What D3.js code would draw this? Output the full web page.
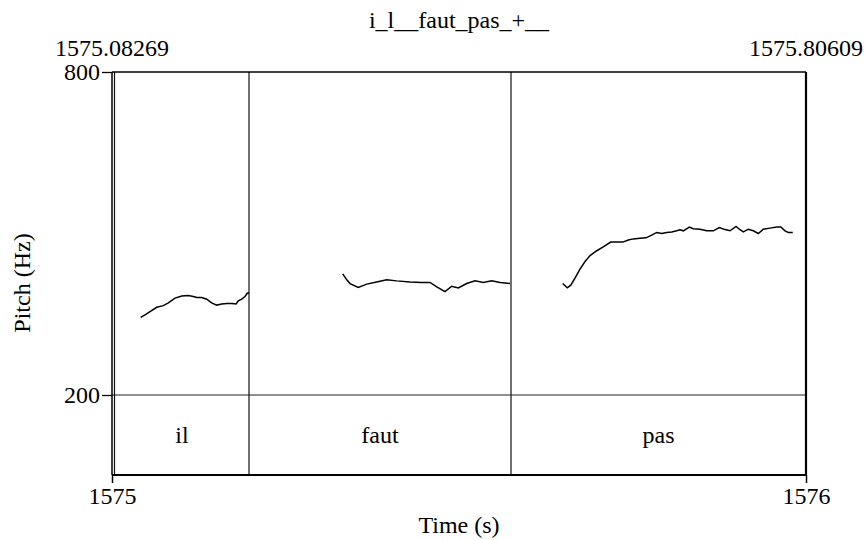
<!DOCTYPE html>
<html>
<head>
<meta charset="utf-8">
<script src="https://d3js.org/d3.v7.min.js"></script>
<style>
  body { margin: 0; background: #fff; }
  svg text { fill: #000; }
</style>
</head>
<body>
<div id="my_dataviz"></div>
<script>

// window shown in the picture (s)
var tStart = 1575.08269, tEnd = 1575.80609;
var bottomTicks = [1575, 1576];
var pitchTicks = [200, 800];
var title = "i_l__faut_pas_+__";

// text tier intervals
var words = ["il", "faut", "pas"];
var bounds = [1575.08269, 1575.2255, 1575.4986, 1575.80609];

// pitch contour (time s, Hz), one array per voiced stretch
var ilTimes = [1575.1126,1575.1171,1575.1223,1575.1293,1575.1362,1575.1414,1575.1484,1575.1554,1575.1622,1575.1674,1575.1710,1575.1762,1575.1814,1575.1866,1575.1918,1575.1971,1575.2023,1575.2075,1575.2120,1575.2144,1575.2179,1575.2213,1575.2237,1575.2256];
var ilHz = [344,349,355,363,366,371,380,384,385,383,381,381,378,371,367,369,370,370,369,375,378,383,389,390];

var fautTimes = [1575.3232,1575.3274,1575.3308,1575.3394,1575.3482,1575.3586,1575.3690,1575.3795,1575.3933,1575.4055,1575.4142,1575.4212,1575.4298,1575.4368,1575.4437,1575.4524,1575.4611,1575.4697,1575.4785,1575.4872,1575.4976];
var fautHz = [425,414,407,400,406,410,414,412,410,409,409,401,392,402,399,407,412,409,412,409,407];

var pasTimes = [1575.5525,1575.5573,1575.5609,1575.5653,1575.5705,1575.5758,1575.5810,1575.5880,1575.5948,1575.6025,1575.6088,1575.6151,1575.6209,1575.6261,1575.6331,1575.6393,1575.6453,1575.6505,1575.6557,1575.6609,1575.6661,1575.6713,1575.6748,1575.6782,1575.6845,1575.6886,1575.6956,1575.7026,1575.7095,1575.7157,1575.7206,1575.7269,1575.7332,1575.7373,1575.7408,1575.7460,1575.7512,1575.7564,1575.7616,1575.7686,1575.7756,1575.7798,1575.7842,1575.7877,1575.7923];
var pasHz = [407,399,404,417,434,448,459,468,475,484,484,484,488,490,491,492,497,502,500,502,503,505,507,505,512,509,508,505,505,511,508,505,513,507,503,508,505,500,508,510,512,512,505,502,502];

var serif = "Liberation Serif, DejaVu Serif, Liberation Sans Narrow, Roboto Condensed, sans-serif";
var pLeft = 112, pRight = 806, pTop = 72, pMid = 395, pBottom = 475;

var svg = d3.select("#my_dataviz")
  .append("svg")
    .attr("width", 866)
    .attr("height", 540)
    .attr("font-family", serif);

var x = d3.scaleLinear().domain([tStart, tEnd]).range([pLeft, pRight]);
var xb = d3.scaleLinear().domain(bottomTicks).range([pLeft, pRight]);
var y = d3.scaleLinear().domain(pitchTicks).range([pMid, pTop]);

// title
svg.append("text")
  .attr("x", (pLeft + pRight) / 2)
  .attr("y", 28)
  .attr("text-anchor", "middle")
  .style("font-size", "24px")
  .text(title);

// start / end times on top
svg.selectAll("toplab")
  .data([tStart, tEnd])
  .enter()
  .append("text")
    .attr("x", function(d) { return x(d); })
    .attr("y", 56)
    .attr("text-anchor", "middle")
    .style("font-size", "24px")
    .text(function(d) { return d3.format(".5f")(d); });

// tier separator and interval boundaries
svg.append("line")
  .attr("x1", pLeft).attr("x2", pRight)
  .attr("y1", pMid).attr("y2", pMid)
  .attr("stroke", "#222").attr("stroke-width", 1.2);

svg.selectAll("bound")
  .data(bounds.slice(1, -1))
  .enter()
  .append("line")
    .attr("x1", function(d) { return x(d); })
    .attr("x2", function(d) { return x(d); })
    .attr("y1", pTop).attr("y2", pBottom)
    .attr("stroke", "#111").attr("stroke-width", 1.2);

// inner left line (tier start)
svg.append("line")
  .attr("x1", pLeft + 2.5).attr("x2", pLeft + 2.5)
  .attr("y1", pTop).attr("y2", pBottom)
  .attr("stroke", "#111").attr("stroke-width", 1.2);

// word labels
svg.selectAll("word")
  .data(words)
  .enter()
  .append("text")
    .attr("x", function(d, i) { return (x(bounds[i]) + x(bounds[i + 1])) / 2 + (i == 0 ? 1.5 : 0); })
    .attr("y", (pMid + pBottom) / 2 + 8)
    .attr("text-anchor", "middle")
    .style("font-size", "24px")
    .text(function(d) { return d; });

// pitch contour
var line = d3.line()
  .x(function(d) { return x(d[0]); })
  .y(function(d) { return y(d[1]); });

[[ilTimes, ilHz], [fautTimes, fautHz], [pasTimes, pasHz]].forEach(function(s) {
  svg.append("path")
    .datum(d3.zip(s[0], s[1]))
    .attr("fill", "none")
    .attr("stroke", "#000")
    .attr("stroke-width", 1.5)
    .attr("d", line);
});

// frame
svg.append("line").attr("x1", pLeft).attr("x2", pRight).attr("y1", pTop).attr("y2", pTop)
  .attr("stroke", "#000").attr("stroke-width", 1.3);
svg.append("line").attr("x1", pLeft).attr("x2", pRight + 1).attr("y1", pBottom).attr("y2", pBottom)
  .attr("stroke", "#000").attr("stroke-width", 2);
svg.append("line").attr("x1", pLeft).attr("x2", pLeft).attr("y1", pTop).attr("y2", pBottom)
  .attr("stroke", "#000").attr("stroke-width", 1.5);
svg.append("line").attr("x1", pRight).attr("x2", pRight).attr("y1", pTop).attr("y2", pBottom)
  .attr("stroke", "#000").attr("stroke-width", 2.2);

// left axis
var gy = svg.append("g")
  .attr("transform", "translate(" + pLeft + ",0)")
  .call(d3.axisLeft(y).tickValues(pitchTicks).tickSize(10).tickPadding(2));
gy.attr("font-family", serif);
gy.select(".domain").remove();
gy.selectAll("text").style("font-size", "24px");
gy.selectAll("line").attr("stroke-width", 1.3);

// bottom axis
var gx = svg.append("g")
  .attr("transform", "translate(0," + pBottom + ")")
  .call(d3.axisBottom(xb).tickValues(bottomTicks).tickSize(8).tickPadding(4).tickFormat(d3.format("d")));
gx.attr("font-family", serif);
gx.select(".domain").remove();
gx.selectAll("text").style("font-size", "24px");
gx.selectAll("line").attr("stroke-width", 1.5);

// axis titles
svg.append("text")
  .attr("x", (pLeft + pRight) / 2)
  .attr("y", 533)
  .attr("text-anchor", "middle")
  .style("font-size", "24px")
  .text("Time (s)");

svg.append("text")
  .attr("transform", "translate(30,283) rotate(-90)")
  .attr("text-anchor", "middle")
  .style("font-size", "24px")
  .text("Pitch (Hz)");

</script>
</body>
</html>
